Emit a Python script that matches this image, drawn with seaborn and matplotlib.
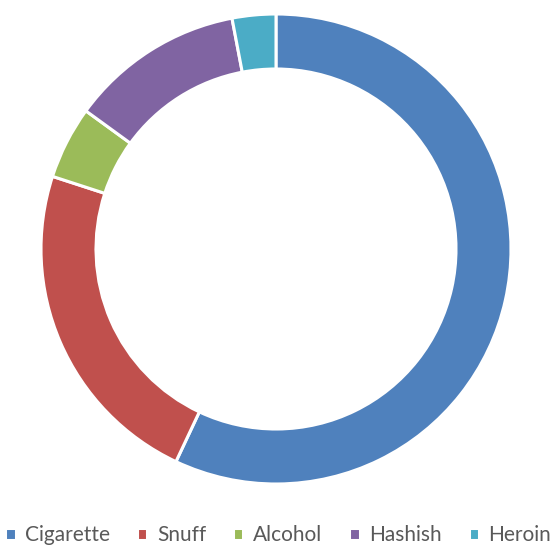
import matplotlib
matplotlib.use("Agg")
import matplotlib.pyplot as plt
import seaborn as sns

labels = ["Cigarette", "Snuff", "Alcohol", "Hashish", "Heroin"]
values = [57, 23, 5, 12, 3]
colors = ["#4F81BD", "#C0504D", "#9BBB59", "#8064A2", "#4BACC6"]

sns.set_theme(style="white")
plt.rcParams['font.family'] = ['Lato', 'DejaVu Sans']

fig = plt.figure(figsize=(5.53, 5.46), dpi=100)
ax = fig.add_axes([41 / 553, 62 / 546, 470 / 553, 470 / 546])

wedges, _ = ax.pie(values, colors=colors, startangle=90, counterclock=False,
                   radius=1.0,
                   wedgeprops=dict(width=0.234, edgecolor="white", linewidth=2.2))
ax.set_xlim(-1, 1)
ax.set_ylim(-1, 1)
ax.set_aspect("equal")
ax.axis("off")

fig.legend(wedges, labels, loc="center", bbox_to_anchor=(0.503, 0.02), ncol=5,
           frameon=False, fontsize=15, labelcolor="#595959",
           handlelength=0.5, handleheight=0.5, handletextpad=0.45,
           columnspacing=1.3, borderaxespad=0, borderpad=0)

fig.savefig("out.png", dpi=100, facecolor="white")
